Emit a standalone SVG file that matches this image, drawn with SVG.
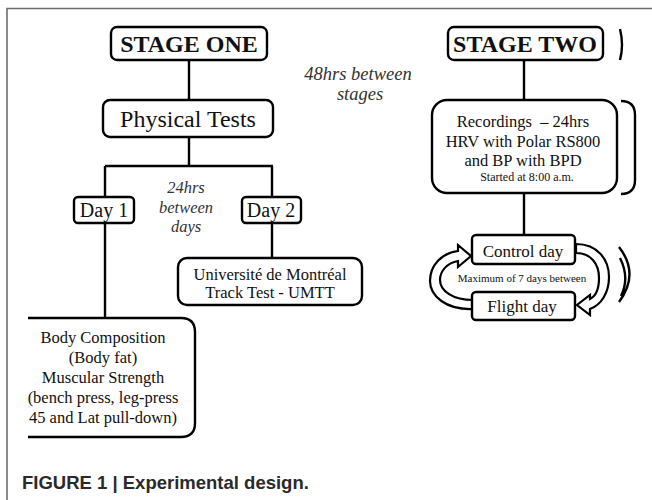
<svg xmlns="http://www.w3.org/2000/svg" width="652" height="500" viewBox="0 0 652 500">
<style>
.box{fill:#fff;stroke:#000;stroke-width:2.4}
.ln{fill:none;stroke:#000;stroke-width:2.4}
.t{font-family:"Liberation Serif","Times New Roman",serif;fill:#111;text-anchor:middle}
.b{font-weight:bold}
.i{font-style:italic;fill:#333}
.arr{fill:#fff;stroke:#000;stroke-width:2.2;stroke-linejoin:miter}
</style>
<rect width="652" height="500" fill="#fff"/>
<path d="M7 500 V8.5 H652" fill="none" stroke="#6e6e6e" stroke-width="1.6"/>

<g id="connectors">
<path class="ln" d="M189 60 V100"/>
<path class="ln" d="M189 137 V166 M105 166 H273 M105 166 V198 M272 166 V198"/>
<path class="ln" d="M105 223 V318"/>
<path class="ln" d="M272 223 V258"/>
<path class="ln" d="M524 60 V100"/>
<path class="ln" d="M524 193 V235"/>
<path class="arr" d="M473 309 C446 310 430 296 430 281 C430 265 442 253 458 251 L458 245 L471 256 L458 267 L458 261 C447 263 440 271 440 280 C440 291 453 300 473 300 Z"/>
<path class="arr" d="M576 244 C598 244 609 260 609 277 C609 293 601 305 590 309 L590 315 L577 305 L590 295 L590 299 C596 296 599 288 599 278 C599 264 591 253 576 253 Z"/>
<path class="ln" d="M620 29 Q624 45 620 60"/>
<path class="ln" d="M621 101 Q635 101 635 115 L635 180 Q635 194 621 194"/>
<path class="ln" d="M619 247 Q640 274 619 302 M620 258 Q630 278 621 296"/>
</g>

<g id="stage-one">
<rect class="box" x="111" y="27" width="156" height="33" rx="6"/>
<text class="t b" x="189" y="52" font-size="24">STAGE ONE</text>
</g>
<g id="physical-tests">
<rect class="box" x="103" y="100" width="170" height="37" rx="7"/>
<text class="t" x="188" y="127" font-size="24">Physical Tests</text>
</g>
<g id="between-days">
<text class="t i" x="186" y="193" font-size="16.5">24hrs</text>
<text class="t i" x="186" y="213" font-size="16.5">between</text>
<text class="t i" x="186" y="232" font-size="16.5">days</text>
</g>
<g id="day-1">
<rect class="box" x="74" y="197" width="60" height="26" rx="4"/>
<text class="t" x="104" y="217" font-size="20">Day 1</text>
</g>
<g id="day-2">
<rect class="box" x="242" y="197" width="59" height="26" rx="4"/>
<text class="t" x="271" y="217" font-size="20">Day 2</text>
</g>
<g id="umtt">
<rect class="box" x="178" y="258" width="184" height="47" rx="9"/>
<text class="t" x="270" y="280" font-size="16.5">Université de Montréal</text>
<text class="t" x="270" y="298" font-size="16.5">Track Test - UMTT</text>
</g>
<g id="body-composition">
<path class="box" d="M28 318 H181 Q195 318 195 332 V423 Q195 437 181 437 H28"/>
<text class="t" x="103" y="343" font-size="16.5">Body Composition</text>
<text class="t" x="103" y="363" font-size="16.5">(Body fat)</text>
<text class="t" x="103" y="383" font-size="16.5">Muscular Strength</text>
<text class="t" x="103" y="403" font-size="16.5">(bench press, leg-press</text>
<text class="t" x="103" y="423" font-size="16.5">45 and Lat pull-down)</text>
</g>
<g id="between-stages">
<text class="t i" x="358" y="80" font-size="18.5">48hrs between</text>
<text class="t i" x="360" y="100" font-size="18.5">stages</text>
</g>
<g id="stage-two">
<rect class="box" x="448" y="27" width="155" height="33" rx="6"/>
<text class="t b" x="525" y="52" font-size="24">STAGE TWO</text>
</g>
<g id="recordings">
<rect class="box" x="432" y="100" width="185" height="93" rx="15"/>
<text class="t" x="523" y="127" font-size="16.5">Recordings &#160;– 24hrs</text>
<text class="t" x="523" y="147" font-size="16.5">HRV with Polar RS800</text>
<text class="t" x="523" y="166" font-size="16.5">and BP with BPD</text>
<text class="t" x="527" y="181" font-size="12">Started at 8:00 a.m.</text>
</g>
<g id="control-day">
<rect class="box" x="472" y="235" width="103" height="29" rx="4"/>
<text class="t" x="523" y="257" font-size="17">Control day</text>
</g>
<g id="max-days">
<text class="t" x="522" y="282" font-size="11">Maximum of 7 days between</text>
</g>
<g id="flight-day">
<rect class="box" x="472" y="292" width="103" height="28" rx="4"/>
<text class="t" x="522" y="312" font-size="17">Flight day</text>
</g>
<text x="22" y="489" font-family="Liberation Sans,Arial,sans-serif" font-weight="bold" font-size="18.5" fill="#2a2a2a">FIGURE 1 | Experimental design.</text>
</svg>
